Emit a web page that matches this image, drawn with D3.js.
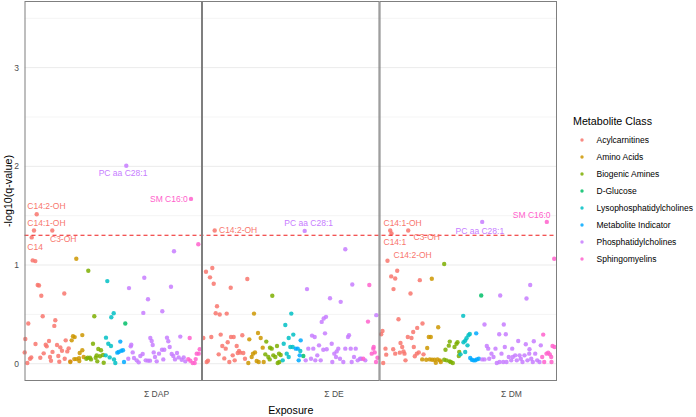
<html>
<script src='https://d3js.org/d3.v7.min.js'></script>
<style>
body { margin: 0; background: #fff; }
text { font-family: "Liberation Sans", Arial, sans-serif; }
</style>
<body>
<svg width="696" height="417" class="chart"></svg>
<script>
// categories
var exposures = ["Σ DAP", "Σ DE", "Σ DM"];
var classes = ["Acylcarnitines", "Amino Acids", "Biogenic Amines", "D-Glucose",
  "Lysophosphatidylcholines", "Metabolite Indicator", "Phosphatidylcholines", "Sphingomyelins"];
var yTicks = [0, 1, 2, 3];
var qLine = 1.301;  // -log10(0.05)

// points: [position along the panel, -log10(q)]
var dapAcyl = [[12.2,1.515],[9.5,1.35],[27.8,1.35],[7.2,1.28],[8.2,1.047],[10.8,1.04],[13.2,0.797],[14.5,0.793],
  [16.8,0.688],[39.8,0.712],[18.2,0.481],[3.8,0.407],[30.8,0.44],[29.8,0.383],[0.8,0.25],[0.2,0.115],[2.8,0.007],
  [5.5,0.05],[6.8,0.064],[15.8,0.06],[19.2,0.105],[21.2,0.193],[22.2,0.176],[24.5,0.23],[25.5,0.068],[26.5,0.03],
  [32.5,0.19],[35.8,0.166],[37.5,0.132],[33.8,0.078],[34.8,0.02],[40.2,0.05],[41.2,0.237],[42.8,0.125],[44.2,0.156],
  [45.8,0.024],[11,0.2],[28,0.12]];
var dapAA = [[51.8,1.064],[47.2,0.237],[48.5,0.278],[50.2,0.27],[57.8,0.29],[45.8,0.017],[49.8,0.047],[51.8,0.047],
  [54.5,0.057],[55.2,0.108],[57.8,0.136],[59.2,0.068],[54.8,0.027]];
var dapBA = [[63.8,0.942],[69.8,0.481],[68.5,0.203],[61.8,0.05],[63.2,0.061],[65.5,0.061],[66.5,0.044],[71.2,0.061],
  [72.8,0.024],[73.8,0.149],[76.5,0.136],[75.5,0.075],[78.5,0.088],[79.2,0.01],[72.2,0.085]];
var dapGlu = [[100.8,0.407]];
var dapLPC = [[82.8,0.837],[86.8,0.471],[89.2,0.512],[81.5,0.264],[83.8,0.203],[86.5,0.18],[81.2,0.085],[85.2,0.064],
  [89.5,0.044],[90.8,0.007]];
var dapMI = [[92.8,0.112],[94.2,0.119],[95.8,0.224],[96.8,0.132],[98.5,0.136],[99.5,0.017]];
var dapPC = [[101.8,2.006],[149.5,1.14],[119.8,0.871],[104.5,0.766],[146.5,0.78],[123.5,0.654],[118.8,0.515],
  [137.8,0.532],[103.8,0.05],[106.2,0.176],[106.8,0.193],[108.2,0.115],[109.5,0.058],[112.2,0.034],[114.2,0.014],
  [115.8,0.078],[118.2,0.098],[121.2,0.034],[123.5,0.031],[125.8,0.261],[127.2,0.23],[128.2,0.19],[129.2,0.115],
  [130.5,0.068],[132.2,0.024],[134.5,0.102],[137.5,0.142],[138.8,0.044],[139.8,0.142],[142.5,0.264],[143.8,0.227],
  [145.2,0.17],[147.2,0.098],[148.8,0.078],[150.5,0.044],[152.5,0.108],[154.2,0.064],[155.8,0.275],[157.2,0.041],
  [159.2,0.064],[160.8,0.024],[125.5,0.031]];
var dapSM = [[166.5,1.67],[173.8,1.21],[165.2,0.261],[163.8,0.047],[165.8,0.03],[168.2,0.007],[170.2,0.007],
  [172.2,0.102],[174.2,0.102],[175.2,0.146],[171.2,0.047]];

var deAcyl = [[12.7,1.35],[4,0.932],[10.3,0.97],[8,0.875],[11.7,0.81],[45.3,0.858],[28.7,0.77],[15,0.583],[13.7,0.512],
  [17.7,0.498],[24.7,0.508],[1.3,0.261],[9.3,0.271],[6,0.03],[4.7,0.017],[18.7,0.295],[20.3,0.18],[23.7,0.153],
  [25.7,0.217],[29,0.271],[31.7,0.271],[40.3,0.288],[30.7,0.085],[34.7,0.18],[35.7,0.108],[37,0.129],[38.3,0.112],
  [41.3,0.108],[43,0.05],[16.7,0.095],[22.3,0.054],[27.3,0.017],[32.7,0.034]];
var deAA = [[52,0.508],[47.3,0.247],[56,0.312],[58.7,0.261],[60.7,0.163],[51,0.102],[53,0.115],[49.7,0.068],
  [46.3,0.007],[54.7,0.027],[56.7,0.017],[61.7,0.017]];
var deBA = [[70.3,0.688],[64.3,0.224],[68,0.163],[69.7,0.153],[63.3,0.095],[66.3,0.068],[71.3,0.085],[73.3,0.068],
  [75,0.18],[77,0.102],[78.7,0.088],[75.7,0.007],[67.7,0.044],[77.3,0.017]];
var deGlu = [[101.3,0.078]];
var deLPC = [[89.3,0.508],[83.3,0.393],[81.7,0.203],[86.7,0.261],[91.3,0.295],[88.3,0.17],[84.7,0.102],[86.7,0.068],
  [80.7,0.034],[90.7,0.17],[98.3,0.129]];
var deMI = [[93.7,0.153],[95.7,0.153],[97.7,0.085],[96.7,0.034],[98.7,0.237]];
var dePC = [[102.7,1.346],[143.3,1.16],[105,0.756],[128,0.664],[138.7,0.627],[150.3,0.803],[174.3,0.492],[124,0.475],
  [121.7,0.458],[119.7,0.424],[110,0.285],[112.7,0.271],[123,0.308],[103.7,0.034],[106.3,0.153],[109,0.05],
  [111.3,0.153],[113.3,0.034],[115.3,0.085],[117,0.186],[118.7,0.034],[121.3,0.142],[124.7,0.146],[129.7,0.203],
  [130.3,0.017],[132.3,0.102],[134,0.068],[136.3,0.153],[138,0.05],[141.3,0.017],[143.3,0.153],[146,0.271],
  [147,0.288],[148.7,0.153],[149.7,0.017],[152,0.068],[153.7,0.153],[155.7,0.034],[158,0.05],[159.3,0.05],
  [163.3,0.034],[134.7,0.125]];
var deSM = [[167.3,0.797],[166,0.427],[172.7,0.115],[174,0.017],[169.7,0.102],[171.7,0.17],[161.3,0.05],[171.3,0.153],
  [175.5,0.06]];

var dmAcyl = [[10.7,1.35],[12,1.32],[28.7,1.35],[8,1.044],[17.7,0.942],[11.7,0.885],[15.7,0.864],[14,0.756],
  [40.3,0.847],[31,0.712],[19,0.451],[1.7,0.298],[3,0.332],[6,0.153],[6.7,0.092],[3.7,0.007],[21,0.21],[22.7,0.17],
  [24,0.125],[20.3,0.112],[26,0.034],[28.3,0.271],[32,0.261],[33.7,0.322],[37.7,0.363],[43,0.407],[34.3,0.17],
  [37.3,0.102],[39.3,0.115],[44,0.095],[35.3,0.075],[13.7,0.146],[15.7,0.102],[25,0.102]];
var dmAA = [[52.3,0.861],[49.3,0.271],[51.3,0.271],[58.7,0.37],[47.7,0.159],[42.7,0.044],[46.7,0.041],[50.3,0.044],
  [52.7,0.041],[55,0.041],[56.3,0.01],[58,0.044],[60.3,0.034],[61.3,0.017]];
var dmBA = [[64.7,1.01],[70.3,0.224],[69.3,0.183],[66,0.142],[77,0.203],[78,0.217],[75,0.17],[79.7,0.119],
  [79.3,0.078],[64.7,0.041],[67,0.034],[70,0.024],[73.3,0.007],[71.3,0.017]];
var dmGlu = [[101.7,0.692]];
var dmLPC = [[83.7,0.485],[84,0.217],[85.7,0.234],[87,0.258],[89,0.288],[90.3,0.302],[88,0.186],[85.7,0.119],
  [81,0.095]];
var dmMI = [[96.7,0.308],[90.7,0.058],[92.3,0.041],[94,0.034],[95.7,0.034],[97.3,0.044],[99.3,0.05]];
var dmPC = [[102.7,1.437],[150.7,0.797],[120.7,0.692],[147,0.661],[105,0.397],[124.3,0.397],[119.7,0.298],
  [126.3,0.298],[138.7,0.23],[146.3,0.197],[154.3,0.227],[150,0.146],[102.7,0.044],[105,0.044],[107.3,0.18],
  [108.7,0.153],[109.7,0.05],[112,0.102],[114,0.068],[116,0.153],[117.3,0.007],[120,0.017],[122,0.102],[123.7,0.017],
  [125.3,0.17],[127,0.017],[129.3,0.068],[131.7,0.034],[133.3,0.068],[135.7,0.085],[137.3,0.034],[140,0.085],
  [141.3,0.05],[143,0.017],[145,0.085],[148,0.034],[149.7,0.102],[151.7,0.05],[153.3,0.017],[155.7,0.102],
  [157.7,0.034],[160,0.017],[161.3,0.186],[132.7,0.153]];
var dmSM = [[167.3,1.437],[174.7,1.064],[163.7,0.295],[162.7,0.068],[164.7,0.017],[167,0.102],[168.7,0.112],
  [170.3,0.095],[172,0.017],[173,0.18],[175,0.17],[171.7,0.068]];

// labelled metabolites: panel, class index, name, point
var labels = [
  ["Σ DAP", 0, "C14:2-OH", 12.2, 1.515], ["Σ DAP", 0, "C14:1-OH", 9.5, 1.35], ["Σ DAP", 0, "C3-OH", 27.8, 1.35],
  ["Σ DAP", 0, "C14", 7.2, 1.28], ["Σ DAP", 6, "PC aa C28:1", 101.8, 2.006], ["Σ DAP", 7, "SM C16:0", 166.5, 1.67],
  ["Σ DE", 0, "C14:2-OH", 12.7, 1.35], ["Σ DE", 6, "PC aa C28:1", 102.7, 1.346],
  ["Σ DM", 0, "C14:1-OH", 10.7, 1.35], ["Σ DM", 0, "C14:1", 12, 1.32], ["Σ DM", 0, "C3-OH", 28.7, 1.35],
  ["Σ DM", 0, "C14:2-OH", 8, 1.044], ["Σ DM", 6, "PC aa C28:1", 102.7, 1.437], ["Σ DM", 7, "SM C16:0", 167.3, 1.437]
];
// where each label sits relative to its point (px)
var labelNudge = [[-9.4,-8.3],[-6.7,-7.3],[-2.3,8.3],[-4.4,9.7],[-27.6,7.6],[-41,0],
  [4.3,0],[-20.4,-7.7],
  [-6.7,-7.1],[-8,8.3],[5.3,6.3],[6,-5.5],[-26.7,8.9],[-34,-6.8]];

var series = {
  "Σ DAP": [dapAcyl, dapAA, dapBA, dapGlu, dapLPC, dapMI, dapPC, dapSM],
  "Σ DE": [deAcyl, deAA, deBA, deGlu, deLPC, deMI, dePC, deSM],
  "Σ DM": [dmAcyl, dmAA, dmBA, dmGlu, dmLPC, dmMI, dmPC, dmSM]
};

var colors = d3.scaleOrdinal().domain(classes)
  .range(["#F8766D", "#CD9600", "#7CAE00", "#00BE67", "#00BFC4", "#00A9FF", "#C77CFF", "#FF61CC"]);

var svg = d3.select(".chart");
var pLeft = 24.5, pRight = 557, pTop = 1, pBottom = 381;

var fx = d3.scaleBand().domain(exposures).range([pLeft, pRight]);
var x = d3.scaleLinear().domain([0, 177.5]).range([0, fx.bandwidth()]);
var y = d3.scaleLinear().domain([-0.175, 3.675]).range([pBottom, pTop]);

// grid
var grid = svg.append("g");
grid.selectAll(".minor").data([0.5, 1.5, 2.5, 3.5]).enter().append("line")
  .attr("x1", pLeft).attr("x2", pRight)
  .attr("y1", function(d) { return y(d); }).attr("y2", function(d) { return y(d); })
  .attr("stroke", "#f1f1f1").attr("stroke-width", 0.8);
grid.selectAll(".major").data(yTicks).enter().append("line")
  .attr("x1", pLeft).attr("x2", pRight)
  .attr("y1", function(d) { return y(d); }).attr("y2", function(d) { return y(d); })
  .attr("stroke", "#ebebeb").attr("stroke-width", 1);

// y axis labels
svg.append("g").selectAll("text").data(yTicks).enter().append("text")
  .attr("x", 19).attr("y", function(d) { return y(d); }).attr("dy", "0.35em")
  .attr("text-anchor", "end").attr("font-size", 8.5).attr("fill", "#4d4d4d")
  .text(function(d) { return d; });

// points
exposures.forEach(function(ex) {
  var g = svg.append("g").attr("transform", "translate(" + fx(ex) + ",0)");
  series[ex].forEach(function(pts, ci) {
    g.selectAll(null).data(pts).enter().append("circle")
      .attr("cx", function(d) { return x(d[0]); })
      .attr("cy", function(d) { return y(d[1]); })
      .attr("r", 2.2)
      .attr("fill", colors(classes[ci]))
      .attr("fill-opacity", 0.85);
  });
});

// significance line
svg.append("line")
  .attr("x1", pLeft).attr("x2", pRight)
  .attr("y1", y(qLine)).attr("y2", y(qLine))
  .attr("stroke", "#ee1c1c").attr("stroke-width", 1.1)
  .attr("stroke-dasharray", "4,3");

// labels
svg.append("g").selectAll("text").data(labels).enter().append("text")
  .attr("x", function(d, i) { return fx(d[0]) + x(d[3]) + labelNudge[i][0]; })
  .attr("y", function(d, i) { return y(d[4]) + labelNudge[i][1]; })
  .attr("dy", "0.35em").attr("font-size", 8.5)
  .attr("fill", function(d) { return colors(classes[d[1]]); })
  .text(function(d) { return d[2]; });

// panel borders
svg.append("g").selectAll("rect").data(exposures).enter().append("rect")
  .attr("x", function(d) { return fx(d) + 0.5; })
  .attr("y", pTop + 0.5)
  .attr("width", fx.bandwidth() - 1)
  .attr("height", pBottom - pTop - 1)
  .attr("fill", "none").attr("stroke", "#7f7f7f").attr("stroke-width", 1);

// x tick labels
svg.append("g").selectAll("text").data(exposures).enter().append("text")
  .attr("x", function(d) { return fx(d) + x(132); })
  .attr("y", 394).attr("dy", "0.35em")
  .attr("text-anchor", "middle").attr("font-size", 8.5).attr("fill", "#4d4d4d")
  .text(function(d) { return d; });

// axis titles
svg.append("text").attr("x", (pLeft + pRight) / 2).attr("y", 410).attr("dy", "0.35em")
  .attr("text-anchor", "middle").attr("font-size", 10.7).attr("fill", "#000")
  .text("Exposure");
svg.append("text")
  .attr("transform", "translate(8," + (pTop + pBottom) / 2 + ") rotate(-90)")
  .attr("dy", "0.35em").attr("text-anchor", "middle").attr("font-size", 10.7).attr("fill", "#000")
  .text("-log10(q-value)");

// legend
var legend = svg.append("g").attr("transform", "translate(573,0)");
legend.append("text").attr("x", 0).attr("y", 121).attr("dy", "0.35em")
  .attr("font-size", 10.7).attr("fill", "#000").text("Metabolite Class");
var items = legend.selectAll(".item").data(classes).enter().append("g")
  .attr("transform", function(d, i) { return "translate(0," + (140 + i * 17) + ")"; });
items.append("circle").attr("cx", 9).attr("cy", 0).attr("r", 1.7)
  .attr("fill", function(d) { return colors(d); }).attr("fill-opacity", 0.85);
items.append("text").attr("x", 23.5).attr("y", 0).attr("dy", "0.35em")
  .attr("font-size", 8.5).attr("fill", "#000").text(function(d) { return d; });
</script>
</body>
</html>
